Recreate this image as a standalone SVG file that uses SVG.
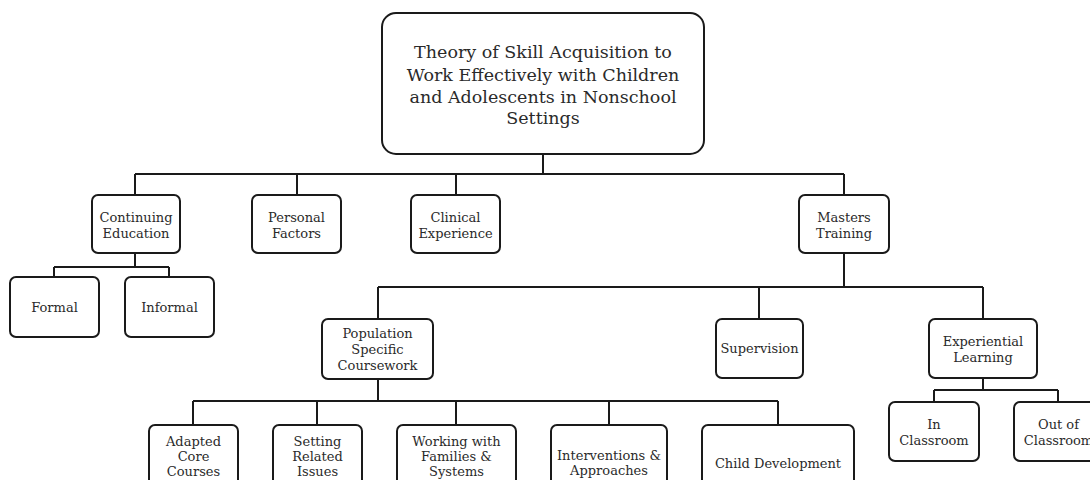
<svg xmlns="http://www.w3.org/2000/svg" width="1090" height="480" viewBox="0 0 1090 480">
<style>
.box{fill:#fff;stroke:#1a1a1a;stroke-width:2}
.t{font-family:"DejaVu Serif","Liberation Serif",serif;font-size:13px;fill:#2a2a2a;text-anchor:middle}
.title{font-family:"DejaVu Serif","Liberation Serif",serif;font-size:17.5px;fill:#2a2a2a;text-anchor:middle}
.c{fill:none;stroke:#1a1a1a;stroke-width:2}
</style>
<rect width="1090" height="480" fill="#fff"/>
<g id="connectors">
<path class="c" d="M543,154V174M135,174H844M135,174V195M297,174V195M456,174V195M844,174V195"/>
<path class="c" d="M135,253V267M54,267H169M54,267V277M169,267V277"/>
<path class="c" d="M844,253V287M378,287H983M378,287V319M759,287V319M983,287V319"/>
<path class="c" d="M378,379V401M193,401H778M193,401V425M317,401V425M456,401V425M609,401V425M778,401V425"/>
<path class="c" d="M983,378V390M934,390H1058M934,390V402M1058,390V402"/>
</g>
<g id="title">
<rect class="box" x="382" y="13" width="322" height="141" rx="14"/>
<text class="title" x="543" y="58">Theory of Skill Acquisition to</text>
<text class="title" x="543" y="80.5">Work Effectively with Children</text>
<text class="title" x="543" y="102.5">and Adolescents in Nonschool</text>
<text class="title" x="543" y="124">Settings</text>
</g>
<g id="continuing-education">
<rect class="box" x="92" y="195" width="88" height="58" rx="6"/>
<text class="t" x="136" y="222">Continuing</text>
<text class="t" x="136" y="238">Education</text>
</g>
<g id="personal-factors">
<rect class="box" x="252" y="195" width="89" height="58" rx="6"/>
<text class="t" x="296.5" y="222">Personal</text>
<text class="t" x="296.5" y="238">Factors</text>
</g>
<g id="clinical-experience">
<rect class="box" x="411" y="195" width="89" height="58" rx="6"/>
<text class="t" x="455.5" y="222">Clinical</text>
<text class="t" x="455.5" y="238">Experience</text>
</g>
<g id="masters-training">
<rect class="box" x="799" y="195" width="90" height="58" rx="6"/>
<text class="t" x="844" y="222">Masters</text>
<text class="t" x="844" y="238">Training</text>
</g>
<g id="formal">
<rect class="box" x="10" y="277" width="89" height="60" rx="6"/>
<text class="t" x="54.5" y="312">Formal</text>
</g>
<g id="informal">
<rect class="box" x="125" y="277" width="89" height="60" rx="6"/>
<text class="t" x="169.5" y="312">Informal</text>
</g>
<g id="population-specific-coursework">
<rect class="box" x="322" y="319" width="111" height="60" rx="6"/>
<text class="t" x="377.5" y="338">Population</text>
<text class="t" x="377.5" y="354">Specific</text>
<text class="t" x="377.5" y="370">Coursework</text>
</g>
<g id="supervision">
<rect class="box" x="716" y="319" width="87" height="59" rx="6"/>
<text class="t" x="759.5" y="353">Supervision</text>
</g>
<g id="experiential-learning">
<rect class="box" x="929" y="319" width="108" height="59" rx="6"/>
<text class="t" x="983" y="346">Experiential</text>
<text class="t" x="983" y="362">Learning</text>
</g>
<g id="in-classroom">
<rect class="box" x="889" y="402" width="90" height="59" rx="6"/>
<text class="t" x="934" y="429">In</text>
<text class="t" x="934" y="445">Classroom</text>
</g>
<g id="out-of-classroom">
<rect class="box" x="1014" y="402" width="89" height="59" rx="6"/>
<text class="t" x="1058.5" y="429">Out of</text>
<text class="t" x="1058.5" y="445">Classroom</text>
</g>
<g id="adapted-core-courses">
<rect class="box" x="149" y="425" width="89" height="75" rx="6"/>
<text class="t" x="193.5" y="446">Adapted</text>
<text class="t" x="193.5" y="461">Core</text>
<text class="t" x="193.5" y="476">Courses</text>
</g>
<g id="setting-related-issues">
<rect class="box" x="273" y="425" width="89" height="75" rx="6"/>
<text class="t" x="317.5" y="446">Setting</text>
<text class="t" x="317.5" y="461">Related</text>
<text class="t" x="317.5" y="476">Issues</text>
</g>
<g id="working-with-families-systems">
<rect class="box" x="397" y="425" width="119" height="75" rx="6"/>
<text class="t" x="456.5" y="446">Working with</text>
<text class="t" x="456.5" y="461">Families &amp;</text>
<text class="t" x="456.5" y="476">Systems</text>
</g>
<g id="interventions-approaches">
<rect class="box" x="551" y="425" width="116" height="75" rx="6"/>
<text class="t" x="609" y="460">Interventions &amp;</text>
<text class="t" x="609" y="475">Approaches</text>
</g>
<g id="child-development">
<rect class="box" x="702" y="425" width="152" height="75" rx="6"/>
<text class="t" x="778" y="468">Child Development</text>
</g>
</svg>
